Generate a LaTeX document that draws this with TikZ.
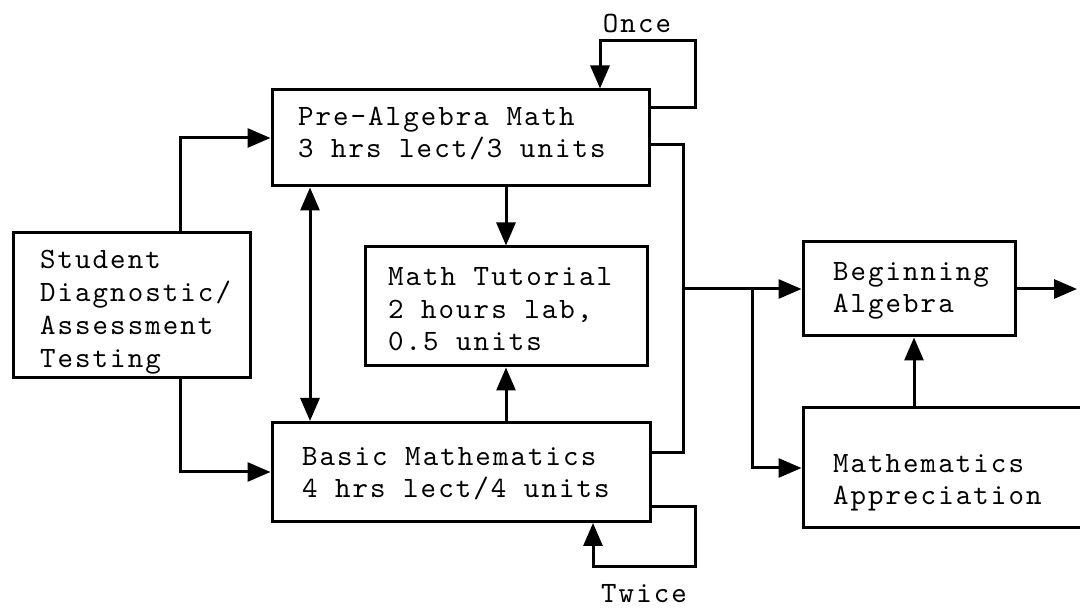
\documentclass[tikz,border=0pt]{standalone}
\usepackage{fontspec}
\newfontfamily\courf{lmmono10-regular.otf}[LetterSpace=7]
\usetikzlibrary{arrows.meta,calc}
\newcommand{\boxlines}[4]{\raisebox{#4pt}[\height][\depth]{\makebox[#2pt][l]{\hspace*{#1pt}\begin{tabular}{@{}l@{}}#3\end{tabular}}}}
\begin{document}
\begin{tikzpicture}[x=1pt,y=-1pt,
  txt/.style={font=\courf\fontsize{29.5}{32.8}\selectfont},
  box/.style={txt, draw, line width=3pt, rectangle, inner sep=0pt},
  conn/.style={line width=3pt},
  arr/.style={conn, -{Triangle[length=23pt,width=19pt]}},
  arrb/.style={conn, {Triangle[length=23pt,width=19pt]}-{Triangle[length=23pt,width=19pt]}},
  lbl/.style={txt, inner sep=0pt}]
\useasboundingbox (0,0) rectangle (1080,609);
\clip (0,0) rectangle (1080,609);

% boxes
\node[box, minimum height=96pt] (pre) at (460.5,138)
  {\boxlines{26}{377}{Pre-Algebra Math\\3 hrs lect/3 units}{3}};
\node[box, minimum height=145pt] (stud) at (131.5,305.5)
  {\boxlines{27}{237}{Student\\Diagnostic/\\Assessment\\Testing}{-6}};
\node[box, minimum height=99pt] (basic) at (461,472)
  {\boxlines{30}{378}{Basic Mathematics\\4 hrs lect/4 units}{-3}};
\node[box, minimum height=119pt] (tut) at (506,306.5)
  {\boxlines{23}{282}{Math Tutorial\\2 hours lab,\\0.5 units}{-5}};
\node[box, minimum height=94pt] (beg) at (909,289)
  {\boxlines{30}{212}{Beginning\\Algebra}{-1}};
\node[box, minimum height=120pt] (app) at (949,468)
  {\boxlines{30}{292}{Mathematics\\Appreciation}{-14}};

% labels
\node[lbl, anchor=base] (once) at (637,33) {Once};
\node[lbl, anchor=base] (twice) at (644,602) {Twice};

% helper coordinates
\coordinate (sx) at (180,0);
\coordinate (dx) at (310,0);
\coordinate (oy) at (0,108);
\coordinate (oc) at (695,41);
\coordinate (ot) at (600,0);
\coordinate (ty) at (0,507);
\coordinate (tc) at (695,567);
\coordinate (tx) at (593,0);
\coordinate (m1) at (0,145);
\coordinate (m2) at (0,453);
\coordinate (mx) at (683,0);
\coordinate (bx) at (752,0);
\coordinate (ax) at (914,0);
\coordinate (out) at (1077,289);

% connectors
\draw[arr] (stud.north -| sx) |- (pre.west);
\draw[arr] (stud.south -| sx) |- (basic.west);
\draw[arrb] (pre.south -| dx) -- (basic.north -| dx);
\draw[arr] (tut.north |- pre.south) -- (tut.north);
\draw[arr] (tut.south |- basic.north) -- (tut.south);
\draw[arr] (pre.east |- oy) -| (oc) -| (pre.north -| ot);
\draw[arr] (basic.east |- ty) -| (tc) -| (basic.south -| tx);
\draw[conn] (pre.east |- m1) -| (mx |- beg.west);
\draw[conn] (basic.east |- m2) -| (mx |- beg.west);
\draw[arr] (mx |- beg.west) -- (beg.west);
\draw[arr] (bx |- beg.west) |- (app.west);
\draw[arr] (app.north -| ax) -- (beg.south -| ax);
\draw[arr] (beg.east) -- (out);
\end{tikzpicture}
\end{document}
